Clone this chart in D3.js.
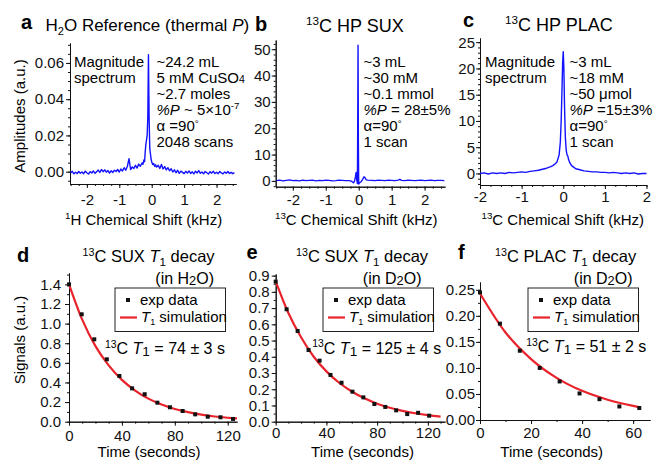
<!DOCTYPE html>
<html>
<head>
<meta charset="utf-8">
<script src="https://cdn.jsdelivr.net/npm/d3@7"></script>
<style>
body { margin: 0; background: #fff; }
svg { font-family: "Liberation Sans", Arial, sans-serif; }
.axis text { font-size: 15px; font-family: "Liberation Sans", Arial, sans-serif; fill: #111; }
.axis path, .axis line { stroke: #111; stroke-width: 1; }
</style>
</head>
<body>
<div id="chart"></div>
<script>
// ---- spectra: [shift (kHz), amplitude] ----
var specA = [[-2.50,-0.0008],[-2.45,0.0002],[-2.40,-0.0012],[-2.35,-0.0003],[-2.30,-0.0010],[-2.25,0.0001],
  [-2.20,-0.0009],[-2.15,-0.0002],[-2.10,-0.0011],[-2.05,0.0003],[-2.00,-0.0006],[-1.95,-0.0013],[-1.90,0.0000],
  [-1.85,-0.0007],[-1.80,0.0004],[-1.75,-0.0009],[-1.70,-0.0001],[-1.65,0.0009],[-1.60,-0.0004],[-1.55,0.0012],
  [-1.50,0.0000],[-1.45,0.0010],[-1.40,-0.0003],[-1.35,0.0006],[-1.30,-0.0008],[-1.25,0.0005],[-1.20,-0.0004],
  [-1.15,0.0008],[-1.10,0.0001],[-1.05,0.0012],[-1.00,-0.0002],[-0.95,0.0015],[-0.90,0.0004],[-0.85,0.0022],
  [-0.80,0.0008],[-0.75,0.0030],[-0.70,0.0072],[-0.65,0.0012],[-0.60,0.0026],[-0.55,0.0018],[-0.50,0.0035],
  [-0.45,0.0020],[-0.40,0.0042],[-0.35,0.0030],[-0.30,0.0048],[-0.27,0.0040],[-0.24,0.0065],[-0.22,0.0055],
  [-0.20,0.0110],[-0.18,0.0150],[-0.16,0.0175],[-0.14,0.0200],[-0.12,0.0300],[-0.10,0.0645],[-0.08,0.0300],
  [-0.06,0.0130],[-0.04,0.0100],[-0.02,0.0070],[0.00,0.0055],[0.03,0.0040],[0.06,0.0045],[0.09,0.0030],
  [0.12,0.0038],[0.15,0.0025],[0.20,0.0035],[0.25,0.0018],[0.30,0.0040],[0.35,0.0015],[0.40,0.0028],
  [0.45,0.0010],[0.50,0.0022],[0.55,0.0005],[0.60,0.0016],[0.65,-0.0002],[0.70,0.0010],[0.75,-0.0006],
  [0.80,0.0008],[0.85,-0.0009],[0.90,0.0003],[0.95,-0.0004],[1.00,-0.0011],[1.05,0.0002],[1.10,-0.0008],
  [1.15,0.0004],[1.20,-0.0010],[1.25,-0.0001],[1.30,-0.0012],[1.35,0.0003],[1.40,-0.0007],[1.45,0.0006],
  [1.50,-0.0009],[1.55,-0.0002],[1.60,-0.0012],[1.65,0.0001],[1.70,-0.0006],[1.75,-0.0013],[1.80,0.0000],
  [1.85,-0.0008],[1.90,0.0002],[1.95,-0.0010],[2.00,-0.0003],[2.05,-0.0011],[2.10,0.0001],[2.15,-0.0007],
  [2.20,-0.0012],[2.25,-0.0002],[2.30,-0.0009],[2.35,0.0001],[2.40,-0.0010],[2.45,-0.0004],[2.50,-0.0011],
  [2.55,-0.0005]];

var specB = [[-2.50,0.1],[-2.40,0.3],[-2.30,0.0],[-2.20,0.2],[-2.10,0.4],[-2.00,0.1],[-1.90,0.2],[-1.80,0.0],
  [-1.70,0.3],[-1.60,0.1],[-1.50,0.2],[-1.40,0.3],[-1.30,0.0],[-1.20,0.2],[-1.10,0.1],[-1.00,0.3],[-0.90,0.2],
  [-0.80,0.0],[-0.70,0.1],[-0.60,0.3],[-0.50,0.2],[-0.40,0.1],[-0.30,0.1],[-0.25,0.0],[-0.20,-0.3],[-0.16,-0.7],
  [-0.13,-0.2],[-0.10,1.5],[-0.08,3.2],[-0.06,0.5],[-0.04,-1.0],[-0.03,20],[-0.02,51.5],[-0.01,15],[0.00,-1.2],
  [0.02,-0.8],[0.05,-0.5],[0.08,-0.2],[0.12,0.6],[0.16,1.6],[0.19,1.2],[0.23,0.4],[0.28,0.3],[0.40,0.2],
  [0.50,0.1],[0.60,0.3],[0.70,0.2],[0.80,0.1],[0.90,0.3],[1.00,0.2],[1.10,0.1],[1.20,0.3],[1.25,0.6],[1.30,0.2],
  [1.40,0.1],[1.50,0.3],[1.60,0.2],[1.70,0.1],[1.80,0.2],[1.90,0.3],[2.00,0.1],[2.10,0.2],[2.20,0.3],[2.30,0.1],
  [2.40,0.2],[2.50,0.2],[2.60,0.1]];

var specC = [[-2.00,0.0],[-1.90,0.1],[-1.80,-0.1],[-1.70,0.1],[-1.60,0.0],[-1.50,0.1],[-1.40,0.0],[-1.30,0.2],
  [-1.20,0.1],[-1.10,0.2],[-1.00,0.3],[-0.90,0.2],[-0.80,0.4],[-0.70,0.5],[-0.60,0.6],[-0.50,0.8],[-0.40,1.0],
  [-0.30,1.3],[-0.25,1.5],[-0.20,1.8],[-0.15,2.2],[-0.10,3.5],[-0.07,6],[-0.05,10],[-0.03,16],[-0.015,21],
  [0.00,23.2],[0.015,20],[0.03,13],[0.05,7],[0.07,4.5],[0.09,3.6],[0.11,3.3],[0.13,2.6],[0.16,2.0],[0.20,1.5],
  [0.25,1.2],[0.30,0.9],[0.40,0.7],[0.50,0.5],[0.60,0.4],[0.70,0.3],[0.80,0.3],[0.90,0.2],[1.00,0.2],[1.10,0.1],
  [1.20,0.2],[1.30,0.1],[1.40,0.0],[1.50,0.1],[1.60,0.0],[1.70,0.1],[1.80,-0.1],[1.90,0.0],[2.00,0.0]];

// ---- T1 decays ----
var timeD = [0, 9.6, 19.1, 28.6, 38.1, 47.7, 57.2, 66.8, 76.3, 85.9, 95.4, 104.9, 114.5, 124.0];
var sigD  = [1.40, 1.095, 0.84, 0.636, 0.466, 0.34, 0.28, 0.194, 0.147, 0.109, 0.075, 0.051, 0.045, 0.028];
var simTimeD = [0, 10, 20, 30, 40, 50, 60, 70, 80, 90, 100, 110, 120, 127];
var simD     = [1.40, 1.04, 0.77, 0.574, 0.426, 0.317, 0.235, 0.175, 0.130, 0.097, 0.072, 0.053, 0.040, 0.033];

var timeE = [0, 8.6, 17.3, 25.9, 34.6, 43.2, 51.9, 60.5, 69.1, 77.8, 86.4, 95.0, 103.7, 112.3, 121.0];
var sigE  = [0.863, 0.693, 0.559, 0.442, 0.376, 0.288, 0.24, 0.185, 0.150, 0.109, 0.091, 0.070, 0.047, 0.055, 0.037];
var simTimeE = [0, 10, 20, 30, 40, 50, 60, 70, 80, 90, 100, 110, 120, 130];
var simE     = [0.865, 0.67, 0.52, 0.40, 0.31, 0.24, 0.186, 0.144, 0.111, 0.086, 0.067, 0.052, 0.040, 0.031];

var timeF = [0, 7.8, 15.6, 23.4, 31.2, 39, 46.8, 54.6, 62.4];
var sigF  = [0.245, 0.185, 0.133, 0.100, 0.074, 0.051, 0.040, 0.026, 0.023];
var simTimeF = [0, 10, 20, 30, 40, 50, 60, 63];
var simF     = [0.243, 0.168, 0.117, 0.081, 0.056, 0.039, 0.027, 0.024];

// ---- tick labels ----
var shiftTicks = [-2, -1, 0, 1, 2];
var ampTicksA = [0, 0.02, 0.04, 0.06];
var ampTicksB = [0, 10, 20, 30, 40, 50];
var ampTicksC = [0, 5, 10, 15, 20, 25];
var timeTicksDE = [0, 40, 80, 120];
var timeTicksF = [0, 20, 40, 60];
var sigTicksD = [0, 0.2, 0.4, 0.6, 0.8, 1.0, 1.2, 1.4];
var sigTicksE = [0, 0.1, 0.2, 0.3, 0.4, 0.5, 0.6, 0.7, 0.8, 0.9];
var sigTicksF = [0, 0.05, 0.10, 0.15, 0.20, 0.25];

var blue = "#1212ff", red = "#e8232b";

var svg = d3.select("#chart").append("svg")
    .attr("width", 653)
    .attr("height", 460);

function rich(x, y, parts, size, anchor) {
    var t = svg.append("text")
        .attr("x", x).attr("y", y)
        .style("font-size", size + "px")
        .attr("text-anchor", anchor || "start");
    var shift = 0;
    parts.forEach(function (p) {
        if (typeof p === "string") p = {t: p};
        var ts = t.append("tspan").text(p.t);
        var target = p.sup ? -(p.up || 0.38) * size : p.sub ? (p.down || 0.22) * size : 0;
        ts.attr("dy", target - shift);
        shift = target;
        if (p.sup || p.sub) ts.style("font-size", (p.s || 0.65) * size + "px");
        if (p.i) ts.style("font-style", "italic");
        if (p.b) ts.style("font-weight", "bold");
    });
    return t;
}

function cleanAxis(g) {
    g.attr("font-size", null).attr("font-family", null);
}

function addAxes(x, y, o) {
    var yb = y.range()[0], xl = x.range()[0];
    svg.append("g").attr("class", "axis")
        .attr("transform", "translate(0," + yb + ")")
        .call(d3.axisBottom(x).tickValues(o.xMinor).tickSize(2).tickSizeOuter(0).tickFormat(""))
        .call(cleanAxis);
    svg.append("g").attr("class", "axis")
        .attr("transform", "translate(0," + yb + ")")
        .call(d3.axisBottom(x).tickValues(o.xMajor).tickSize(4).tickSizeOuter(0)
            .tickPadding(o.xPad).tickFormat(function (d) { return String(d); }))
        .call(cleanAxis);
    svg.append("g").attr("class", "axis")
        .attr("transform", "translate(" + xl + ",0)")
        .call(d3.axisLeft(y).tickValues(o.yMinor).tickSize(2).tickSizeOuter(0).tickFormat(""))
        .call(cleanAxis);
    svg.append("g").attr("class", "axis")
        .attr("transform", "translate(" + xl + ",0)")
        .call(d3.axisLeft(y).tickValues(o.yMajor).tickSize(4).tickSizeOuter(0)
            .tickPadding(o.yPad).tickFormat(o.yFmt))
        .call(cleanAxis);
}

function spectrum(data, x, y) {
    svg.append("path")
        .datum(data)
        .attr("fill", "none")
        .attr("stroke", blue)
        .attr("stroke-width", 1.4)
        .attr("stroke-linejoin", "round")
        .attr("d", d3.line().x(function (d) { return x(d[0]); }).y(function (d) { return y(d[1]); }));
}

function decay(times, sig, simT, sim, x, y) {
    svg.append("path")
        .datum(simT.map(function (t, i) { return [t, sim[i]]; }))
        .attr("fill", "none")
        .attr("stroke", red)
        .attr("stroke-width", 2.2)
        .attr("d", d3.line().curve(d3.curveMonotoneX)
            .x(function (d) { return x(d[0]); }).y(function (d) { return y(d[1]); }));
    svg.append("g").selectAll("rect")
        .data(times.map(function (t, i) { return [t, sig[i]]; }))
        .enter().append("rect")
        .attr("x", function (d) { return x(d[0]) - 2; })
        .attr("y", function (d) { return y(d[1]) - 2; })
        .attr("width", 4).attr("height", 4)
        .attr("fill", "#111");
}

function legend(lx, ly) {
    svg.append("rect").attr("x", lx).attr("y", ly).attr("width", 110.5).attr("height", 43.5)
        .attr("fill", "#fff").attr("stroke", "#222").attr("stroke-width", 1);
    svg.append("rect").attr("x", lx + 11).attr("y", ly + 10).attr("width", 4).attr("height", 4).attr("fill", "#111");
    rich(lx + 25, ly + 17, ["exp data"], 15);
    svg.append("line").attr("x1", lx + 5).attr("x2", lx + 22).attr("y1", ly + 29.5).attr("y2", ly + 29.5)
        .attr("stroke", red).attr("stroke-width", 2.2);
    rich(lx + 26, ly + 34, [{t: "T", i: true}, {t: "1", sub: true, s: 0.6}, " simulation"], 15);
}

// ================= panel a =================
var xA = d3.scaleLinear().domain([-2.52, 2.6]).range([70, 236]);
var yA = d3.scaleLinear().domain([-0.0068, 0.071]).range([184, 43]);
addAxes(xA, yA, {xMajor: shiftTicks, xMinor: d3.range(-2.5, 2.6, 0.25), xPad: 6,
    yMajor: ampTicksA, yMinor: d3.range(-0.005, 0.0701, 0.005), yPad: 2, yFmt: d3.format(".2f")});
spectrum(specA, xA, yA);
rich(21, 28.5, [{t: "a", b: true}], 20);
rich(45.5, 31, ["H", {t: "2", sub: true}, "O Reference (thermal ", {t: "P", i: true}, ")"], 17);
rich(74, 66.5, ["Magnitude"], 15);
rich(74, 82.5, ["spectrum"], 15);
rich(156.5, 66.5, ["~24.2 mL"], 15);
rich(156.5, 82.5, ["5 mM CuSO", {t: "4", sub: true, s: 0.7, down: 0.05}], 15);
rich(156.5, 98.5, ["~2.7 moles"], 15);
rich(156.5, 114.5, [{t: "%P", i: true}, " ~ 5\u00d710", {t: "-7", sup: true, up: 0.35}], 15);
rich(156.5, 130.5, ["\u03b1 =90", {t: "\u00b0", sup: true, up: 0.25}], 15);
rich(156.5, 146.5, ["2048 scans"], 15);
rich(24.5, 116, ["Amplitudes (a.u.)"], 15, "middle").attr("transform", "rotate(-90,24.5,116)");
rich(65, 225, [{t: "1", sup: true}, "H Chemical Shift (kHz)"], 15);

// ================= panel b =================
var xB = d3.scaleLinear().domain([-2.52, 2.62]).range([275.7, 445]);
var yB = d3.scaleLinear().domain([-2.2, 53.5]).range([186.7, 40]);
addAxes(xB, yB, {xMajor: shiftTicks, xMinor: d3.range(-2.5, 2.6, 0.25), xPad: 3.5,
    yMajor: ampTicksB, yMinor: d3.range(-2, 53, 2), yPad: 1, yFmt: d3.format("d")});
spectrum(specB, xB, yB);
rich(255, 30.5, [{t: "b", b: true}], 20);
rich(306, 31.5, [{t: "13", sup: true}, "C HP SUX"], 18);
rich(363.5, 66.5, ["~3 mL"], 15);
rich(363.5, 82.5, ["~30 mM"], 15);
rich(363.5, 98.5, ["~0.1 mmol"], 15);
rich(363.5, 114.5, [{t: "%P", i: true}, " = 28\u00b15%"], 15);
rich(363.5, 130.5, ["\u03b1=90", {t: "\u00b0", sup: true, up: 0.25}], 15);
rich(363.5, 146.5, ["1 scan"], 15);
rich(275, 225, [{t: "13", sup: true}, "C Chemical Shift (kHz)"], 15);

// ================= panel c =================
var xC = d3.scaleLinear().domain([-2, 2]).range([480, 646.5]);
var yC = d3.scaleLinear().domain([-2.2, 25.8]).range([185, 38]);
addAxes(xC, yC, {xMajor: shiftTicks, xMinor: d3.range(-2, 2.01, 0.25), xPad: 2,
    yMajor: ampTicksC, yMinor: d3.range(-2, 26, 1), yPad: 1, yFmt: d3.format("d")});
spectrum(specC, xC, yC);
rich(463, 27, [{t: "c", b: true}], 20);
rich(505, 30.5, [{t: "13", sup: true}, "C HP PLAC"], 18);
rich(485, 66.5, ["Magnitude"], 15);
rich(485, 82.5, ["spectrum"], 15);
rich(569.5, 66.5, ["~3 mL"], 15);
rich(569.5, 82.5, ["~18 mM"], 15);
rich(569.5, 98.5, ["~50 \u03bcmol"], 15);
rich(569.5, 114.5, [{t: "%P", i: true}, " =15\u00b13%"], 15);
rich(569.5, 130.5, ["\u03b1=90", {t: "\u00b0", sup: true, up: 0.25}], 15);
rich(569.5, 146.5, ["1 scan"], 15);
rich(481.5, 225, [{t: "13", sup: true}, "C Chemical Shift (kHz)"], 15);

// ================= panel d =================
var xD = d3.scaleLinear().domain([0, 127]).range([69, 237]);
var yD = d3.scaleLinear().domain([0, 1.516]).range([421.7, 273]);
addAxes(xD, yD, {xMajor: timeTicksDE, xMinor: d3.range(0, 127, 10), xPad: 4.5,
    yMajor: sigTicksD, yMinor: d3.range(0, 1.51, 0.1), yPad: 4, yFmt: d3.format(".1f")});
decay(timeD, sigD, simTimeD, simD, xD, yD);
rich(17, 262, [{t: "d", b: true}], 20);
rich(82.5, 262, [{t: "13", sup: true}, "C SUX ", {t: "T", i: true}, {t: "1", sub: true, s: 0.7}, " decay"], 16.5);
rich(214, 283.5, ["(in H", {t: "2", sub: true, s: 0.8, down: 0.12}, "O)"], 16, "end");
legend(115, 288);
rich(105, 354, [{t: "13", sup: true}, "C ", {t: "T", i: true}, {t: "1", sub: true, s: 0.85, down: 0.15}, " = 74 \u00b1 3 s"], 16);
rich(24.5, 340, ["Signals (a.u.)"], 15, "middle").attr("transform", "rotate(-90,24.5,340)");
rich(149, 456.5, ["Time (seconds)"], 15, "middle");

// ================= panel e =================
var xE = d3.scaleLinear().domain([0, 133.5]).range([275.7, 445]);
var yE = d3.scaleLinear().domain([0, 0.91]).range([421.7, 274]);
addAxes(xE, yE, {xMajor: timeTicksDE, xMinor: d3.range(0, 133, 10), xPad: 2,
    yMajor: sigTicksE, yMinor: d3.range(0, 0.91, 0.05), yPad: 2, yFmt: d3.format(".1f")});
decay(timeE, sigE, simTimeE, simE, xE, yE);
rich(246.5, 258.5, [{t: "e", b: true}], 20);
rich(296, 262, [{t: "13", sup: true}, "C SUX ", {t: "T", i: true}, {t: "1", sub: true, s: 0.7}, " decay"], 16.5);
rich(421.5, 283.5, ["(in D", {t: "2", sub: true, s: 0.8, down: 0.12}, "O)"], 16, "end");
legend(323, 288);
rich(312.3, 353.5, [{t: "13", sup: true}, "C ", {t: "T", i: true}, {t: "1", sub: true, s: 0.85, down: 0.15}, " = 125 \u00b1 4 s"], 16);
rich(362.5, 456.5, ["Time (seconds)"], 15, "middle");

// ================= panel f =================
var xF = d3.scaleLinear().domain([0, 66.6]).range([480, 650]);
var yF = d3.scaleLinear().domain([0, 0.265]).range([420, 282]);
addAxes(xF, yF, {xMajor: timeTicksF, xMinor: d3.range(0, 66, 10), xPad: 3.5,
    yMajor: sigTicksF, yMinor: d3.range(0, 0.26, 0.025), yPad: 1, yFmt: d3.format(".2f")});
decay(timeF, sigF, simTimeF, simF, xF, yF);
rich(458, 258.5, [{t: "f", b: true}], 20);
rich(495, 262, [{t: "13", sup: true}, "C PLAC ", {t: "T", i: true}, {t: "1", sub: true, s: 0.7}, " decay"], 16.5);
rich(632.5, 283.5, ["(in D", {t: "2", sub: true, s: 0.8, down: 0.12}, "O)"], 16, "end");
legend(528, 288);
rich(526.3, 351.7, [{t: "13", sup: true}, "C ", {t: "T", i: true}, {t: "1", sub: true, s: 0.85, down: 0.15}, " = 51 \u00b1 2 s"], 16);
rich(551.7, 456.5, ["Time (seconds)"], 15, "middle");
</script>
</body>
</html>
